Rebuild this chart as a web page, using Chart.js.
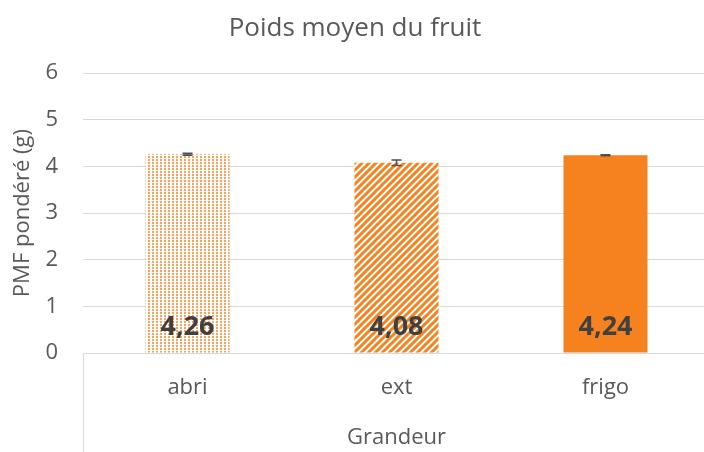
<!DOCTYPE html>
<html>
<head>
<meta charset="utf-8">
<script src="https://cdn.jsdelivr.net/npm/chart.js@4.4.1/dist/chart.umd.min.js"></script>
<style>
  html, body { margin: 0; padding: 0; background: #ffffff; overflow: hidden; }
  #wrap { width: 710px; height: 452px; }
</style>
</head>
<body>
<div id="wrap"><canvas id="c" width="710" height="452"></canvas></div>
<script>
const categories = ['abri', 'ext', 'frigo'];
const values = [4.26, 4.08, 4.24];
const errors = [0.02, 0.06, 0.01];
const valueLabels = ['4,26', '4,08', '4,24'];
const yTicks = [0, 1, 2, 3, 4, 5, 6];
const chartTitle = 'Poids moyen du fruit';
const yTitle = 'PMF pondéré (g)';
const xTitle = 'Grandeur';

const ORANGE = '#F5821F';
const TXT = '#595959';
const GRID = '#D9D9D9';
const FONT = '"Open Sans", Lato, sans-serif';

function dotPattern() {
  const c = document.createElement('canvas');
  c.width = 4; c.height = 3;
  const g = c.getContext('2d');
  g.fillStyle = '#ffffff'; g.fillRect(0, 0, 4, 3);
  g.fillStyle = 'rgba(245,130,31,0.75)';
  g.fillRect(0, 0, 2, 2);
  return g.createPattern(c, 'repeat');
}
function stripePattern() {
  const s = 7;
  const c = document.createElement('canvas');
  c.width = s; c.height = s;
  const g = c.getContext('2d');
  g.fillStyle = '#ffffff'; g.fillRect(0, 0, s, s);
  g.strokeStyle = ORANGE; g.lineWidth = 3;
  g.beginPath();
  g.moveTo(-s, 2 * s); g.lineTo(2 * s, -s);
  g.moveTo(-2 * s, 2 * s); g.lineTo(s, -s);
  g.moveTo(0, 2 * s); g.lineTo(3 * s, -s);
  g.stroke();
  return g.createPattern(c, 'repeat');
}

const fills = [dotPattern(), stripePattern(), ORANGE];

const errorBars = {
  id: 'errorBars',
  afterDatasetsDraw(chart) {
    const meta = chart.getDatasetMeta(0);
    const ys = chart.scales.y;
    const ctx = chart.ctx;
    ctx.save();
    ctx.strokeStyle = '#505050';
    ctx.lineWidth = 1.6;
    meta.data.forEach((el, i) => {
      const x = el.x;
      const t = ys.getPixelForValue(values[i] + errors[i]);
      const b = ys.getPixelForValue(values[i] - errors[i]);
      ctx.beginPath();
      ctx.moveTo(x, t); ctx.lineTo(x, b);
      ctx.moveTo(x - 5, t); ctx.lineTo(x + 5, t);
      ctx.moveTo(x - 5, b); ctx.lineTo(x + 5, b);
      ctx.stroke();
    });
    ctx.restore();
  }
};

const dataLabels = {
  id: 'dataLabels',
  afterDatasetsDraw(chart) {
    const meta = chart.getDatasetMeta(0);
    const ys = chart.scales.y;
    const ctx = chart.ctx;
    ctx.save();
    ctx.fillStyle = '#404040';
    ctx.font = 'bold 27px ' + FONT;
    ctx.textAlign = 'center';
    ctx.textBaseline = 'middle';
    meta.data.forEach((el, i) => {
      ctx.fillText(valueLabels[i], el.x, ys.getPixelForValue(0) - 26);
    });
    ctx.restore();
  }
};

const categoryBox = {
  id: 'categoryBox',
  beforeDatasetsDraw(chart) {
    const a = chart.chartArea;
    const ctx = chart.ctx;
    ctx.save();
    ctx.strokeStyle = GRID;
    ctx.lineWidth = 1;
    ctx.beginPath();
    ctx.moveTo(Math.round(a.left) + 0.5, a.bottom);
    ctx.lineTo(Math.round(a.left) + 0.5, chart.height);
    ctx.stroke();
    ctx.restore();
  }
};

new Chart(document.getElementById('c'), {
  type: 'bar',
  data: {
    labels: categories,
    datasets: [{
      data: values,
      backgroundColor: fills,
      borderWidth: 0,
      categoryPercentage: 1,
      barPercentage: 0.402
    }]
  },
  options: {
    responsive: false,
    animation: false,
    layout: { padding: 0 },
    plugins: {
      legend: { display: false },
      tooltip: { enabled: false },
      title: {
        display: true,
        text: chartTitle,
        color: TXT,
        font: { family: FONT, size: 26, weight: 'normal' },
        padding: { top: 13, bottom: 29 }
      }
    },
    scales: {
      y: {
        min: 0, max: 6,
        afterBuildTicks(scale) { scale.ticks = yTicks.map(v => ({ value: v })); },
        afterFit(scale) { scale.width = 83; },
        ticks: { color: TXT, font: { family: FONT, size: 22 }, padding: 25 },
        grid: { color: GRID, drawTicks: false, lineWidth: 1 },
        border: { display: false },
        title: {
          display: true, text: yTitle, color: TXT,
          font: { family: FONT, size: 22 }, padding: { top: 10, bottom: 0 }
        }
      },
      x: {
        afterFit(scale) { scale.height = 99; },
        ticks: { color: TXT, font: { family: FONT, size: 22 }, padding: 22 },
        grid: { display: true, drawOnChartArea: false, drawTicks: false, color: 'rgba(0,0,0,0)' },
        border: { display: true, color: GRID, width: 1 },
        title: {
          display: true, text: xTitle, color: TXT,
          font: { family: FONT, size: 22 }, padding: { top: 0, bottom: 1 }
        }
      }
    }
  },
  plugins: [categoryBox, errorBars, dataLabels]
});
</script>
</body>
</html>
